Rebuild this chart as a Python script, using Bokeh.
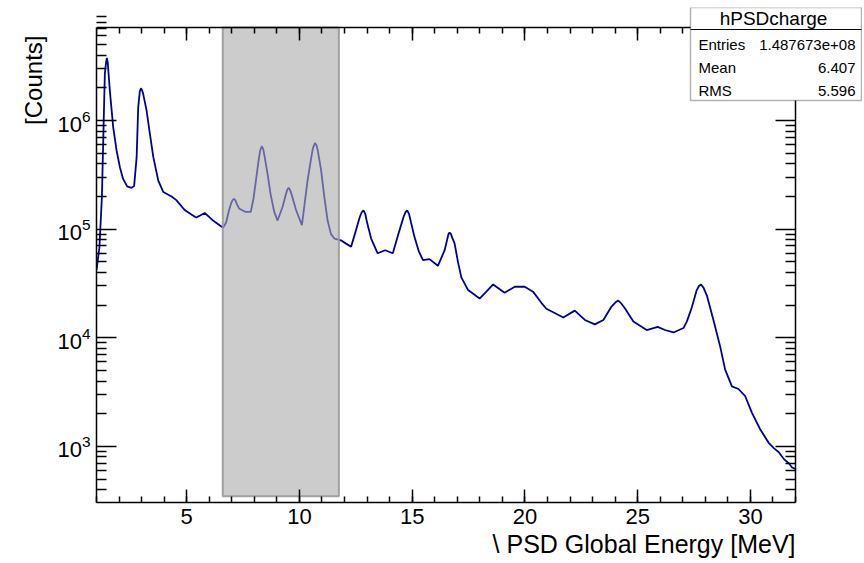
import math
from bokeh.plotting import figure
from bokeh.models import LinearAxis, LogAxis, FixedTicker, Label, BoxAnnotation, Range1d, Title
from bokeh.embed import file_html
from bokeh.resources import INLINE

# ---- data ----
energy = [1.00, 1.13, 1.24, 1.32, 1.37, 1.43, 1.46, 1.50, 1.59, 1.74, 1.89, 2.04, 2.18, 2.36,
          2.55, 2.67, 2.78, 2.85, 2.92, 2.97, 3.02, 3.07, 3.22, 3.37, 3.52, 3.74, 3.96, 4.33,
          4.54, 4.91, 5.36, 5.43, 5.80, 6.17, 6.61, 6.75, 6.88, 6.98, 7.04, 7.10, 7.16, 7.22,
          7.32, 7.62, 7.84, 7.96, 8.07, 8.19, 8.26, 8.33, 8.40, 8.46, 8.59, 8.72, 8.88, 9.03,
          9.25, 9.40, 9.46, 9.52, 9.58, 9.65, 9.85, 10.11, 10.36, 10.52, 10.60, 10.69, 10.76,
          10.82, 10.96, 11.10, 11.25, 11.40, 11.55, 11.84, 12.05, 12.29, 12.51, 12.68, 12.76,
          12.84, 12.92, 13.00, 13.18, 13.47, 13.80, 14.14, 14.44, 14.62, 14.70, 14.78, 14.86,
          14.95, 15.10, 15.30, 15.48, 15.77, 16.14, 16.44, 16.55, 16.61, 16.66, 16.72, 16.78,
          16.88, 17.03, 17.18, 17.48, 17.99, 18.29, 18.59, 19.10, 19.55, 19.99, 20.36, 20.73,
          20.95, 21.32, 21.70, 22.21, 22.66, 23.10, 23.48, 23.84, 24.05, 24.14, 24.25, 24.44,
          24.81, 25.40, 25.89, 26.21, 26.59, 27.03, 27.18, 27.40, 27.62, 27.72, 27.81, 27.92,
          28.07, 28.36, 28.66, 28.88, 29.18, 29.47, 29.77, 30.07, 30.44, 30.81, 31.05, 31.25,
          31.50, 31.70, 31.85, 32.00]
counts = [4.2e4, 6.8e4, 2.0e5, 1.0e6, 2.7e6, 3.5e6, 3.76e6, 3.4e6, 1.9e6, 8.7e5, 5.3e5, 3.7e5,
          2.9e5, 2.48e5, 2.4e5, 2.5e5, 4.6e5, 1.33e6, 1.85e6, 1.98e6, 1.9e6, 1.76e6, 1.24e6,
          7.5e5, 4.6e5, 2.8e5, 2.2e5, 2.0e5, 1.85e5, 1.5e5, 1.3e5, 1.28e5, 1.41e5, 1.2e5,
          1.03e5, 1.15e5, 1.5e5, 1.75e5, 1.86e5, 1.9e5, 1.84e5, 1.72e5, 1.55e5, 1.44e5, 1.44e5,
          1.9e5, 2.8e5, 4.3e5, 5.3e5, 5.8e5, 5.4e5, 4.6e5, 3.2e5, 2.1e5, 1.45e5, 1.2e5, 1.6e5,
          2.1e5, 2.3e5, 2.4e5, 2.3e5, 2.1e5, 1.5e5, 1.09e5, 2.8e5, 4.5e5, 5.6e5, 6.2e5, 5.9e5,
          5.2e5, 3.5e5, 2.0e5, 1.2e5, 9.0e4, 8.2e4, 7.9e4, 7.4e4, 6.9e4, 9.8e4, 1.3e5, 1.43e5,
          1.49e5, 1.38e5, 1.15e5, 8.2e4, 6.0e4, 6.4e4, 6.0e4, 9.8e4, 1.3e5, 1.43e5, 1.49e5,
          1.38e5, 1.15e5, 8.5e4, 6.2e4, 5.2e4, 5.3e4, 4.6e4, 6.4e4, 8.0e4, 9.0e4, 9.3e4, 9.0e4,
          8.3e4, 7.4e4, 5.0e4, 3.6e4, 2.75e4, 2.3e4, 2.66e4, 3.1e4, 2.6e4, 2.95e4, 2.95e4,
          2.66e4, 2.1e4, 1.85e4, 1.69e4, 1.54e4, 1.78e4, 1.46e4, 1.33e4, 1.46e4, 1.94e4, 2.15e4,
          2.2e4, 2.1e4, 1.86e4, 1.41e4, 1.18e4, 1.26e4, 1.18e4, 1.12e4, 1.23e4, 1.41e4, 1.9e4,
          2.75e4, 3.0e4, 3.1e4, 2.9e4, 2.45e4, 1.46e4, 8.3e3, 5.1e3, 3.57e3, 3.38e3, 2.9e3,
          2.04e3, 1.43e3, 1.08e3, 960, 890, 760, 700, 640, 620]

x_min, x_max = 1, 32
y_min, y_max = 305, 7.18e6
x_major = [5, 10, 15, 20, 25, 30]
x_minor = list(range(1, 33))
y_major = [1e3, 1e4, 1e5, 1e6]
y_minor = [k * 10.0 ** e for e in range(2, 7) for k in range(2, 10)]

band_left, band_right, band_bottom = 6.6, 11.75, 348

stats_title = "hPSDcharge"
stats_names = ["Entries", "Mean", "RMS"]
stats_values = ["1.487673e+08", "6.407", "5.596"]

x_title = "\\ PSD Global Energy [MeV]"
y_title = "[Counts]"

# ---- layout (pixels) ----
W, H = 862, 561
FL, FT, FR, FB = 96, 7, 862, 502        # frame box (canvas px)
AR, AT = 795, 27                        # where the right / top axes sit
FONT = "Liberation Sans"

# extend ranges so that the frame also covers the stats box area
px_per_x = (AR - FL) / (x_max - x_min)
x_end = x_max + (FR - AR) / px_per_x
dec = (FB - AT) / (math.log10(y_max) - math.log10(y_min))
y_end = 10 ** (math.log10(y_max) + (AT - FT) / dec)

p = figure(width=W, height=H, x_range=Range1d(x_min, x_end), y_range=Range1d(y_min, y_end),
           y_axis_type="log", output_backend="svg", toolbar_location=None,
           min_border_left=FL, min_border_right=W - FR, min_border_top=FT,
           min_border_bottom=H - FB)
p.grid.visible = False
p.outline_line_color = None
p.background_fill_color = "white"
p.border_fill_color = "white"

p.line(energy, counts, line_color="#000099", line_width=1.8)
p.quad(left=[band_left], right=[band_right], bottom=[band_bottom], top=[y_max],
       fill_color="#aaaaaa", fill_alpha=0.6, line_color="#999999", line_alpha=0.9, line_width=2)

p.add_layout(LinearAxis(fixed_location=y_max), "above")
p.add_layout(LogAxis(fixed_location=x_max), "right")


def style(ax, major, minor, tin, min_in, bounds, labels=True):
    ax.ticker = FixedTicker(ticks=major, minor_ticks=minor)
    ax.bounds = bounds
    ax.major_tick_in = tin
    ax.major_tick_out = 0
    ax.minor_tick_in = min_in
    ax.minor_tick_out = 0
    ax.axis_line_width = 1.5
    ax.major_tick_line_width = 1.5
    ax.minor_tick_line_width = 1.5
    ax.major_label_text_font = FONT
    ax.major_label_text_font_size = "22px"
    ax.major_label_text_color = "black"
    ax.major_label_standoff = 6
    if not labels:
        ax.major_label_overrides = {t: "" for t in major}
        ax.major_label_text_font_size = "1px"
        ax.major_label_standoff = 0


style(p.below[0], x_major, x_minor, 13, 6, (x_min, x_max))
style(p.above[0], x_major, x_minor, 13, 6, (x_min, x_max), labels=False)
style(p.left[0], y_major, y_minor, 20, 10, (y_min, y_max))
style(p.right[0], y_major, y_minor, 20, 10, (y_min, y_max), labels=False)

# axis titles (right / top aligned like ROOT)
p.add_layout(Title(text=x_title, align="right", offset=FR - AR, text_font=FONT,
                   text_font_size="25px", text_font_style="normal", text_color="black",
                   standoff=3), "below")
p.add_layout(Title(text=y_title, align="right", offset=35 - FT, text_font=FONT,
                   text_font_size="24px", text_font_style="normal", text_color="black",
                   standoff=15), "left")


def sx(px):
    return px - FL


def sy(py):
    return FB - py


# stats box
p.add_layout(BoxAnnotation(left=sx(690), right=sx(861), bottom=sy(100), top=sy(FT),
                           left_units="screen", right_units="screen", bottom_units="screen",
                           top_units="screen", fill_color="white", fill_alpha=1,
                           line_color="black", line_width=1.5))
p.add_layout(BoxAnnotation(left=sx(690), right=sx(861), bottom=sy(29.5), top=sy(28.5),
                           left_units="screen", right_units="screen", bottom_units="screen",
                           top_units="screen", fill_color="black", fill_alpha=1,
                           line_color=None))
p.add_layout(Label(x=sx(773), y=sy(18), x_units="screen", y_units="screen", text=stats_title,
                   text_font=FONT, text_font_size="19px", text_align="center",
                   text_baseline="middle", text_color="black"))
row_y = [44, 67, 90]
for name, val, ry in zip(stats_names, stats_values, row_y):
    p.add_layout(Label(x=sx(698), y=sy(ry), x_units="screen", y_units="screen", text=name,
                       text_font=FONT, text_font_size="15px", text_align="left",
                       text_baseline="middle", text_color="black"))
    p.add_layout(Label(x=sx(855), y=sy(ry), x_units="screen", y_units="screen", text=val,
                       text_font=FONT, text_font_size="15px", text_align="right",
                       text_baseline="middle", text_color="black"))

open("out.html", "w").write(file_html(p, INLINE))
